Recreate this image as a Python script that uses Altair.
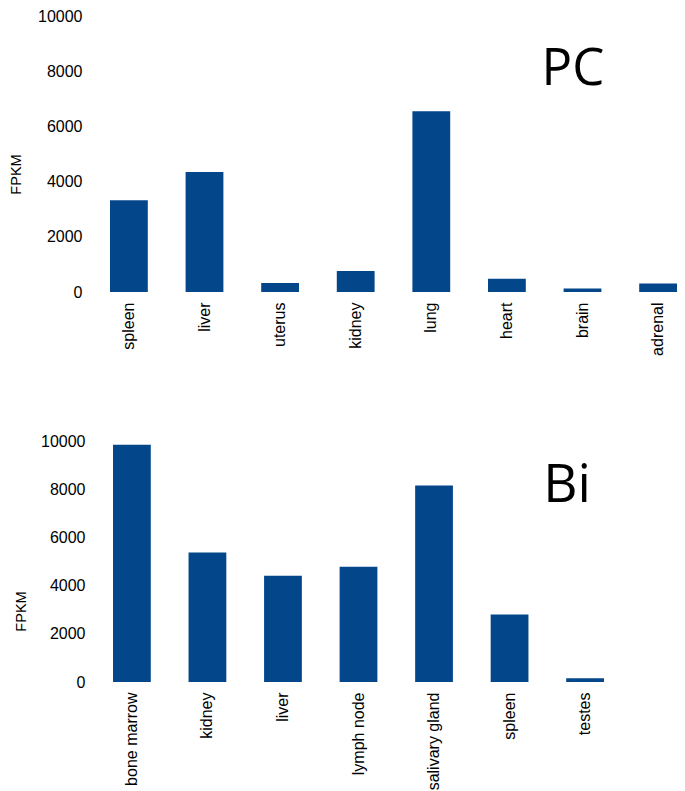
import altair as alt
import pandas as pd

# ---- data ----
pc_tissues = ["spleen", "liver", "uterus", "kidney", "lung", "heart", "brain", "adrenal"]
pc_fpkm = [3320, 4350, 330, 760, 6550, 480, 130, 305]

bi_tissues = ["bone marrow", "kidney", "liver", "lymph node", "salivary gland", "spleen", "testes"]
bi_fpkm = [9840, 5370, 4410, 4780, 8150, 2800, 160]

y_ticks = [0, 2000, 4000, 6000, 8000, 10000]
panel_labels = ["PC", "Bi"]

BAR = "#03468a"
FONT = "Liberation Sans"


def panel(tissues, values, label, width, height, pad_outer, label_pad,
          title_x, title_y, text_x, text_y, text_size):
    df = pd.DataFrame({"tissue": tissues, "FPKM": values})
    bars = alt.Chart(df).mark_bar(color=BAR).encode(
        x=alt.X(
            "tissue:N",
            sort=tissues,
            scale=alt.Scale(paddingInner=0.5, paddingOuter=pad_outer),
            axis=alt.Axis(
                title=None, labelAngle=-90, labelPadding=10, labelFontSize=16,
                labelFont=FONT, labelColor="black", domain=False, ticks=False,
                labelLimit=300,
            ),
        ),
        y=alt.Y(
            "FPKM:Q",
            scale=alt.Scale(domain=[0, 10000], nice=False),
            axis=alt.Axis(
                values=y_ticks, format="d", title="FPKM", grid=False,
                domain=False, ticks=False, labelPadding=label_pad,
                labelFontSize=16, labelFont=FONT, labelColor="black",
                titleFont=FONT, titleFontSize=14.5, titleFontWeight="normal",
                titleColor="black", titleX=title_x, titleY=title_y,
                titleBaseline="middle",
            ),
        ),
    )
    text = alt.Chart(pd.DataFrame({"t": [label]})).mark_text(
        font="Open Sans", fontSize=text_size, color="black",
        align="center", baseline="alphabetic",
    ).encode(text="t:N", x=alt.value(text_x), y=alt.value(text_y))
    return alt.layer(bars, text).properties(width=width, height=height)


top = panel(pc_tissues, pc_fpkm, panel_labels[0], 567, 276, 0.0, 28,
            -94, 158, 463, 69, 51)
bottom = panel(bi_tissues, bi_fpkm, panel_labels[1], 497, 241, 0.04, 25,
               -89, 170, 457, 61, 53)

chart = alt.vconcat(top, bottom, spacing=77).properties(
    padding={"left": 0, "top": 0, "right": 0, "bottom": 0}
).configure(background="white").configure_view(stroke=None)

chart.save("out.html", embed_options={"renderer": "svg", "actions": False})
